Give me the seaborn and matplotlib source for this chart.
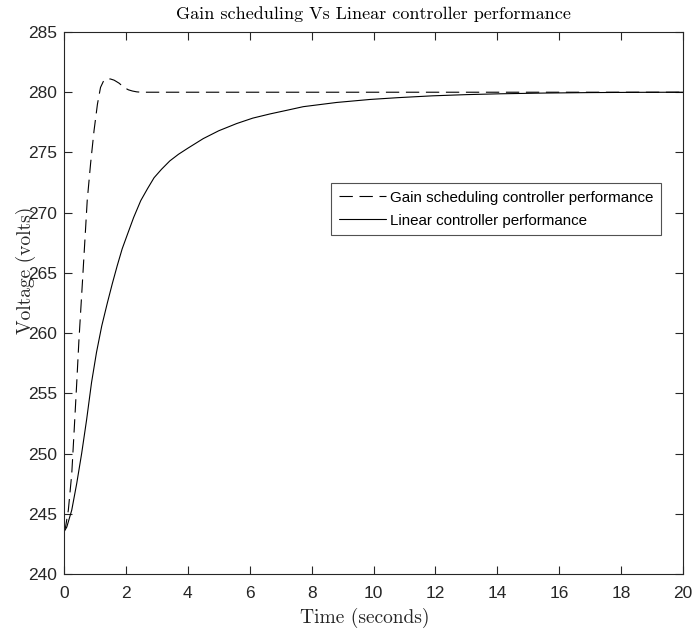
import matplotlib
matplotlib.use("Agg")
import matplotlib.pyplot as plt
import seaborn as sns
import pandas as pd

# ---- data ----
t_gain = [0.0, 0.05, 0.14, 0.25, 0.33, 0.41, 0.48, 0.59, 0.70, 0.75, 0.86, 0.97, 1.08, 1.18, 1.29, 1.40,
          1.50, 1.62, 1.78, 1.94, 2.08, 2.21, 2.35, 2.5, 3.0, 5.0, 10.0, 15.0, 20.0]
v_gain = [243.5, 243.9, 245.3, 248.3, 252.0, 255.8, 259.3, 264.0, 268.8, 271.0, 274.1, 276.8, 279.0, 280.4, 281.0, 281.1,
          281.1, 281.0, 280.75, 280.4, 280.2, 280.1, 280.03, 280.0, 280.0, 280.0, 280.0, 280.0, 280.0]

t_lin = [0.0, 0.09, 0.25, 0.41, 0.57, 0.73, 0.89, 1.05, 1.22, 1.40, 1.56, 1.72, 1.88, 2.05, 2.25, 2.48, 2.70, 2.91,
         3.15, 3.42, 3.70, 4.0, 4.5, 5.0, 5.58, 6.1, 6.66, 7.2, 7.73, 8.81, 9.89, 10.8, 11.9, 13.0, 14.1, 15.5,
         17.0, 18.5, 20.0]
v_lin = [243.5, 243.9, 245.3, 247.5, 250.0, 252.8, 255.9, 258.4, 260.6, 262.5, 264.1, 265.6, 267.0, 268.2, 269.6, 271.0, 272.0, 272.9,
         273.6, 274.3, 274.85, 275.35, 276.15, 276.8, 277.4, 277.85, 278.2, 278.5, 278.8, 279.15, 279.4, 279.55, 279.7, 279.8, 279.87, 279.93,
         279.97, 279.99, 280.0]

x_ticks = list(range(0, 21, 2))
y_ticks = list(range(240, 286, 5))

title = "Gain scheduling Vs Linear controller performance"
x_label = "Time (seconds)"
y_label = "Voltage (volts)"
label_gain = "Gain scheduling controller performance"
label_lin = "Linear controller performance"

df_gain = pd.DataFrame({"t": t_gain, "v": v_gain})
df_lin = pd.DataFrame({"t": t_lin, "v": v_lin})

sns.set_style("ticks")
plt.rcParams["font.family"] = ["Liberation Sans", "DejaVu Sans"]
plt.rcParams["xtick.direction"] = "in"
plt.rcParams["ytick.direction"] = "in"

fig = plt.figure(figsize=(6.99, 6.33), dpi=100)
ax = fig.add_axes([64 / 699, 1 - 574 / 633, (683 - 64) / 699, (574 - 32) / 633])

sns.lineplot(data=df_gain, x="t", y="v", ax=ax, color="black", lw=0.8,
             linestyle=(0, (12, 6)), label=label_gain)
sns.lineplot(data=df_lin, x="t", y="v", ax=ax, color="black", lw=0.8,
             linestyle="-", label=label_lin)

ax.set_xlim(0, 20)
ax.set_ylim(240, 285)
ax.set_xticks(x_ticks)
ax.set_yticks(y_ticks)
axc = "#262626"
for s in ax.spines.values():
    s.set_visible(True)
    s.set_color(axc)
    s.set_linewidth(0.8)
ax.tick_params(axis="both", which="both", direction="in", top=True, right=True,
               length=6, width=0.8, color=axc, labelcolor=axc, labelsize=12.5, pad=5)
ax.tick_params(axis="x", pad=9)

serif = ["cmr10", "DejaVu Serif"]
ax.set_title(title, fontsize=13, family=serif, color="black", pad=9)
ax.set_xlabel(x_label, fontsize=14, family=serif, color=axc)
ax.set_ylabel(y_label, fontsize=14, family=serif, color=axc)
ax.xaxis.set_label_coords(0.4855, -0.063)
ax.yaxis.set_label_coords(-0.045, 0.561)

leg = ax.legend(loc="upper left", bbox_to_anchor=((331 - 64) / 619, 1 - (183 - 32) / 542),
                frameon=True, fancybox=False, fontsize=10.9, handlelength=3.1,
                borderpad=0.5, labelspacing=0.6, handletextpad=0.3, borderaxespad=0)
leg.get_frame().set_edgecolor(axc)
leg.get_frame().set_linewidth(0.8)
for tx in leg.get_texts():
    tx.set_color("black")

fig.savefig("out.png", dpi=100, facecolor="white")
